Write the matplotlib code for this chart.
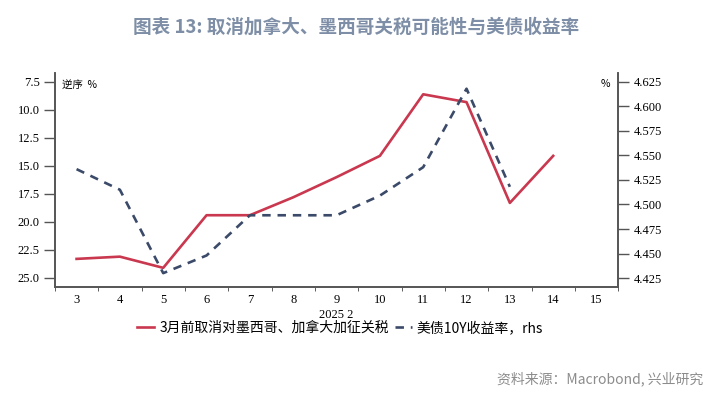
import matplotlib.pyplot as plt
import numpy as np

plt.rcParams["font.family"] = ["Noto Sans CJK SC", "DejaVu Sans"]

# x categories (2025年2月日期)
days = [3, 4, 5, 6, 7, 8, 9, 10, 11, 12, 13, 14, 15]
# 3月前取消对墨西哥、加拿大加征关税 (左轴, 逆序, %)
prob_days = [3, 4, 5, 6, 7, 8, 9, 10, 11, 12, 13, 14]
prob_values = [23.3, 23.1, 24.1, 19.4, 19.4, 17.8, 16.0, 14.1, 8.6, 9.3, 18.3, 14.1]
# 美债10Y收益率 (右轴, %)
yield_days = [3, 4, 5, 6, 7, 8, 9, 10, 11, 12, 13]
yield_values = [4.536, 4.515, 4.430, 4.448, 4.489, 4.489, 4.489, 4.509, 4.538, 4.618, 4.518]

left_ticks = [7.5, 10.0, 12.5, 15.0, 17.5, 20.0, 22.5, 25.0]
right_ticks = [4.425, 4.450, 4.475, 4.500, 4.525, 4.550, 4.575, 4.600, 4.625]

red = "#c9384f"
navy = "#3b4a69"
serif = "Liberation Serif"

fig = plt.figure(figsize=(7.13, 3.99), dpi=100)
ax = fig.add_axes([0.077, 0.281, 0.79, 0.536])
ax2 = ax.twinx()

ax.plot(prob_days, prob_values, color=red, lw=1.9, zorder=3,
        label="3月前取消对墨西哥、加拿大加征关税")
ax2.plot(yield_days, yield_values, color=navy, lw=1.9, dashes=(3.2, 2.6),
         label="美债10Y收益率，rhs")

ax.set_xlim(2.5, 15.5)
ax.set_ylim(25.8, 6.7)
ax2.set_ylim(4.416, 4.634)

ax.set_yticks(left_ticks)
ax.set_yticklabels([f"{t:.1f}" for t in left_ticks], family=serif, fontsize=9)
ax2.set_yticks(right_ticks)
ax2.set_yticklabels([f"{t:.3f}" for t in right_ticks], family=serif, fontsize=9)

ax.set_xticks(days)
ax.set_xticklabels([str(d) for d in days], family=serif, fontsize=9)
ax.set_xticks(np.arange(2.5, 15.6, 1.0), minor=True)
ax.tick_params(axis="x", which="major", length=0, pad=5)
ax.tick_params(axis="x", which="minor", length=3, color="#444444")
ax.tick_params(axis="y", length=8, width=1, color="#555555", pad=3)
ax2.tick_params(axis="y", length=8, width=1, color="#555555", pad=3)

for a in (ax, ax2):
    a.spines["top"].set_visible(False)
    for s in ("left", "right", "bottom"):
        a.spines[s].set_color("#555555")
        a.spines[s].set_linewidth(1.2)

ax.set_xlabel("2025 2", family=serif, fontsize=9, labelpad=2)

ax.text(0.012, 0.97, "逆序  %", transform=ax.transAxes, fontsize=7.5,
        style="italic", va="top", ha="left")
ax2.text(0.985, 0.97, "%", transform=ax2.transAxes, fontsize=7.5,
         va="top", ha="right")

h1, l1 = ax.get_legend_handles_labels()
h2, l2 = ax2.get_legend_handles_labels()
fig.legend(h1 + h2, l1 + l2, loc="center", bbox_to_anchor=(0.477, 0.178),
           ncol=2, frameon=False, fontsize=10, handlelength=1.25,
           handletextpad=0.35, columnspacing=0.4)

fig.text(0.5, 0.932, "图表 13: 取消加拿大、墨西哥关税可能性与美债收益率",
         ha="center", va="center", fontsize=13.4, fontweight="bold", color="#7d8ea6")
fig.text(0.986, 0.05, "资料来源：Macrobond, 兴业研究", ha="right", va="center",
         fontsize=10, color="#8c8c8c")

fig.savefig("out.png", dpi=100)
